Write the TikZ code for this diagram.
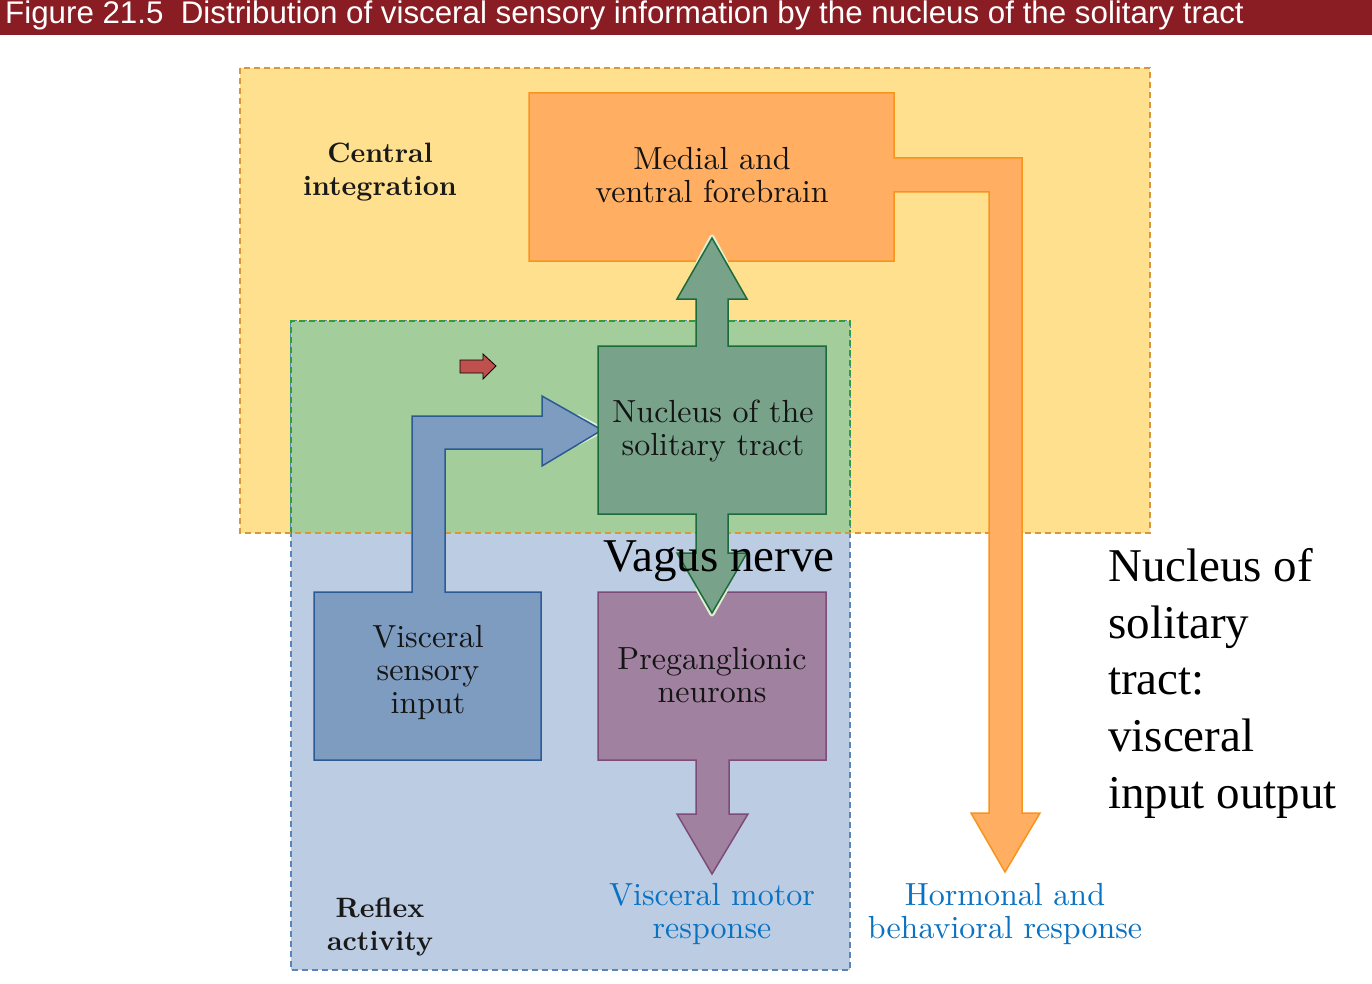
\documentclass[tikz,border=0pt]{standalone}
\usepackage{fontspec}
\newfontfamily\sansf{Liberation Sans}
\newfontfamily\timesf{Liberation Serif}
\newfontfamily\lmten{lmroman10-regular.otf}[BoldFont=lmroman10-bold.otf]
\definecolor{titlered}{HTML}{8A1D23}
\definecolor{yelfill}{HTML}{FFE08E}
\definecolor{yelline}{HTML}{D9973B}
\definecolor{grnfill}{HTML}{A3CD9A}
\definecolor{grnline}{HTML}{2F9B44}
\definecolor{blufill}{HTML}{BCCCE3}
\definecolor{bluline}{HTML}{5B84B8}
\definecolor{orfill}{HTML}{FFAE62}
\definecolor{orline}{HTML}{F7941E}
\definecolor{ntsfill}{HTML}{78A38A}
\definecolor{ntsline}{HTML}{1D6B3A}
\definecolor{visfill}{HTML}{7E9BC0}
\definecolor{visline}{HTML}{2B5A95}
\definecolor{prefill}{HTML}{A0819F}
\definecolor{preline}{HTML}{7D4C7A}
\definecolor{resptext}{HTML}{0A72C2}
\definecolor{redarrow}{HTML}{C0504D}
\definecolor{halo}{HTML}{E2EFD2}
\begin{document}
\begin{tikzpicture}[x=1pt,y=-1pt,
  regionborder/.style={line width=1.3pt, dash pattern=on 6pt off 4pt},
  shapeline/.style={line width=1.5pt, line join=miter},
  haloline/.style={draw=halo, line width=5pt, line join=round, line cap=round},
  boxtext/.style={font=\lmten\fontsize{32}{33}\selectfont, align=center, inner sep=0pt, text=black!92},
  regiontext/.style={font=\lmten\fontsize{28}{33}\selectfont\bfseries, align=center, inner sep=0pt, text=black!90},
  resptextstyle/.style={font=\lmten\fontsize{32}{33}\selectfont, align=center, inner sep=0pt, text=resptext},
  ]
\useasboundingbox (0,0) rectangle (1372,984);
% title bar
\fill[titlered] (0,0) rectangle (1372,35);
\node[anchor=base west, inner sep=0pt, text=white, font=\sansf\fontsize{31.3}{33}\selectfont] (title) at (5,24)
  {Figure 21.5\ \ Distribution of visceral sensory information by the nucleus of the solitary tract};
% regions
\fill[yelfill] (240,68) rectangle (1150,533);
\draw[regionborder, draw=bluline, fill=blufill] (291,321) rectangle (850,970);
\fill[grnfill] (291,321) rectangle (850,533);
\draw[regionborder, draw=grnline] (291,533) -- (291,321) -- (850,321) -- (850,533);
\draw[regionborder, draw=yelline] (240,68) rectangle (1150,533);
% orange forebrain box with output arrow
\draw[shapeline, draw=orline, fill=orfill] (529,93) -- (894,93) -- (894,158) -- (1022,158) -- (1022,813)
  -- (1040,813) -- (1005,872) -- (971,813) -- (989,813) -- (989,192) -- (894,192) -- (894,261)
  -- (529,261) -- cycle;
% purple preganglionic box
\draw[shapeline, draw=preline, fill=prefill] (598,592) -- (826,592) -- (826,760) -- (729,760) -- (729,814)
  -- (748,814) -- (712,874) -- (677,814) -- (696,814) -- (696,760) -- (598,760) -- cycle;
% blue visceral sensory box with arrow
\draw[haloline] (578,417) -- (603,430) -- (578,443);
\draw[shapeline, draw=visline, fill=visfill] (314,592) -- (412,592) -- (412,416) -- (542,416) -- (542,396)
  -- (602,430) -- (542,466) -- (542,449) -- (445,449) -- (445,592) -- (541,592) -- (541,760)
  -- (314,760) -- cycle;
% green nucleus box with arrows
\draw[haloline] (698,263) -- (712,237) -- (726,263);
\draw[haloline] (698,589) -- (712,614) -- (726,589);
\draw[shapeline, draw=ntsline, fill=ntsfill] (598,346) -- (696,346) -- (696,299) -- (677,299) -- (712,238)
  -- (747,299) -- (728,299) -- (728,346) -- (826,346) -- (826,514) -- (728,514) -- (728,553)
  -- (747,553) -- (712,613) -- (677,553) -- (696,553) -- (696,514) -- (598,514) -- cycle;
% small red arrow
\draw[line width=0.8pt, draw=black, fill=redarrow] (460,360) -- (483,360) -- (483,354) -- (496,366)
  -- (483,379) -- (483,373) -- (460,373) -- cycle;
% texts
\node[regiontext] (central) at (380,172) {Central\\integration};
\node[regiontext] (reflex) at (380,927) {Reflex\\activity};
\node[boxtext] (forebrain) at (712,175) {Medial and\\ventral forebrain};
\node[boxtext] (nts) at (713,431) {Nucleus of the\\solitary tract};
\node[boxtext] (vsi) at (428,672) {Visceral\\sensory\\input};
\node[boxtext] (pgn) at (712,675) {Preganglionic\\neurons};
\node[resptextstyle] (vmr) at (712,914) {Visceral motor\\response};
\node[resptextstyle] (hbr) at (1005,914) {Hormonal and\\behavioral response};
\node[anchor=base, inner sep=0pt, font=\timesf\fontsize{47}{50}\selectfont] (vagus) at (719,571) {Vagus nerve};
\node[anchor=north west, inner sep=0pt, align=left, font=\timesf\fontsize{47}{56.7}\selectfont] (note) at (1108,548)
  {Nucleus of\\solitary\\tract:\\visceral\\input output};
\end{tikzpicture}
\end{document}
